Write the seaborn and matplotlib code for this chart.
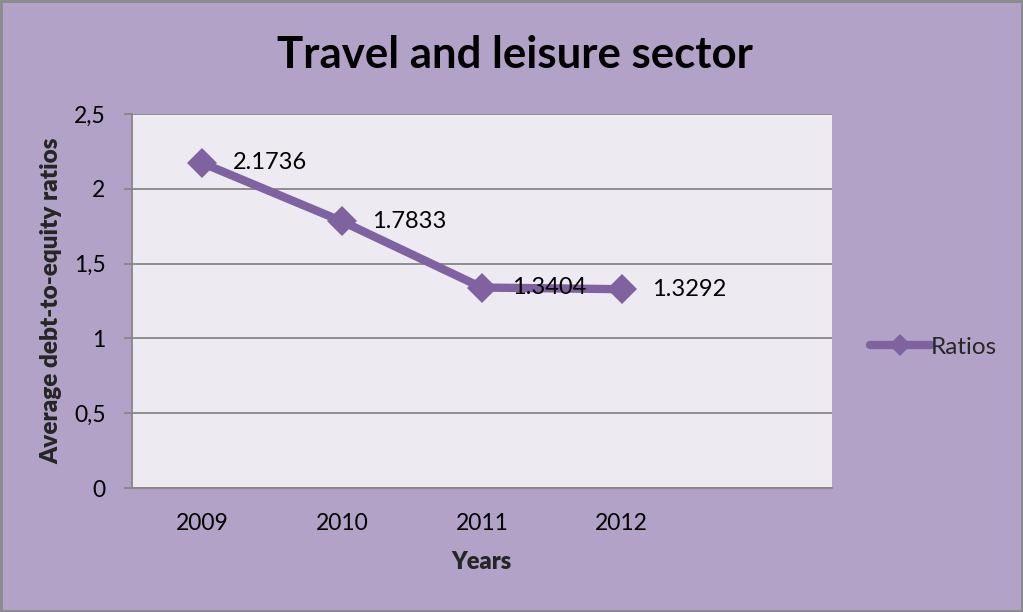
import matplotlib
matplotlib.use("Agg")
import matplotlib.pyplot as plt
from matplotlib.ticker import FuncFormatter, MultipleLocator
import seaborn as sns
import pandas as pd

years = ["2009", "2010", "2011", "2012"]
ratios = [2.1736, 1.7833, 1.3404, 1.3292]
series_name = "Ratios"

sns.set_theme(style="white")
plt.rcParams["font.family"] = ["Lato", "DejaVu Sans"]

bg = "#B3A2C7"
plot_bg = "#EDEBF1"
line_col = "#7F63A1"
grid_col = "#878787"

fig = plt.figure(figsize=(10.23, 6.12), dpi=100, facecolor=bg)
ax = fig.add_axes([0.129, 0.2026, 0.684, 0.611])
ax.set_facecolor(plot_bg)

df = pd.DataFrame({"Year": years, series_name: ratios})
sns.lineplot(data=df, x="Year", y=series_name, ax=ax, color=line_col,
             linewidth=6, marker="D", markersize=15, markeredgewidth=0,
             label=series_name, zorder=3)

# data labels to the right of each point
for i, v in enumerate(ratios):
    ax.annotate(f"{v:.4f}", (i, v), xytext=(22, 0), textcoords="offset points",
                ha="left", va="center", fontsize=17, color="black", zorder=4)

ax.set_xlim(-0.5, 4.5)
ax.set_ylim(0, 2.5)
ax.yaxis.set_major_locator(MultipleLocator(0.5))
ax.yaxis.set_major_formatter(FuncFormatter(lambda v, p: f"{v:g}".replace(".", ",")))
ax.grid(axis="y", color=grid_col, linewidth=1.3)
ax.set_axisbelow(True)

for s in ["top", "right"]:
    ax.spines[s].set_visible(False)
for s in ["left", "bottom"]:
    ax.spines[s].set_color(grid_col)
    ax.spines[s].set_linewidth(1.3)

ax.tick_params(axis="y", which="major", direction="out", length=6, width=1.3,
               color=grid_col, labelsize=16.5, pad=13, left=True)
ax.tick_params(axis="x", length=0, labelsize=16.5, pad=18)
for t in ax.get_xticklabels() + ax.get_yticklabels():
    t.set_color("black")

ax.set_xlabel("Years", fontsize=17, fontweight="heavy", labelpad=12)
ax.set_ylabel("Average debt-to-equity ratios", fontsize=17.5, fontweight="heavy", labelpad=8)

fig.suptitle("Travel and leisure sector", x=0.503, y=0.942, fontsize=31.5,
             fontweight="bold", color="black")

leg = ax.legend(loc="center left", bbox_to_anchor=(1.0, 0.377), frameon=False,
                fontsize=17.5, handlelength=2.5, handletextpad=0.0,
                borderaxespad=1.27, borderpad=0.3)
for h in leg.legend_handles:
    h.set_markersize(11)

# chart border
fig.patches.append(plt.Rectangle((0.001, 0.002), 0.998, 0.996, transform=fig.transFigure,
                                 fill=False, edgecolor="#8A8A8A", linewidth=2))

fig.savefig("out.png", dpi=100, facecolor=bg)
